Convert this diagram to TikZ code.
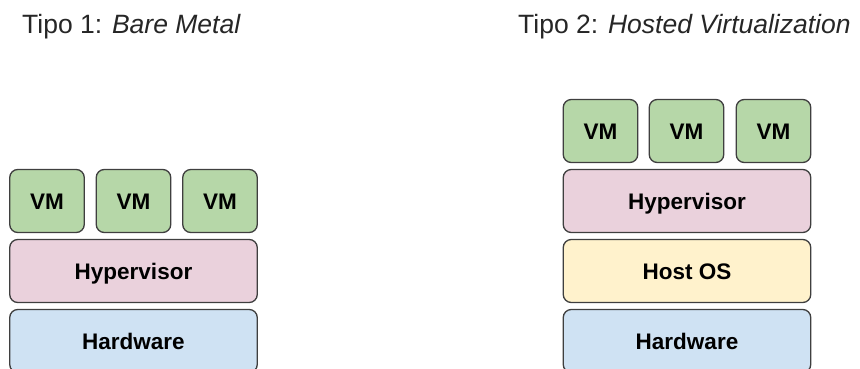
\documentclass[tikz,border=0pt]{standalone}
\usepackage{fontspec}
\setmainfont{Liberation Sans}
\definecolor{vmgreen}{HTML}{B6D7A8}
\definecolor{hvpink}{HTML}{EAD1DC}
\definecolor{hwblue}{HTML}{CFE2F3}
\definecolor{osyellow}{HTML}{FFF2CC}
\definecolor{edgegray}{HTML}{3F3F3F}
\begin{document}
\begin{tikzpicture}[x=1pt,y=-1pt,
  layer/.style={draw=edgegray, line width=1.3pt, rounded corners=8pt,
    minimum height=63pt, inner sep=0pt, text height=16pt, text depth=0pt,
    font=\fontsize{22.5}{26}\selectfont\bfseries, text=black},
  vmbox/.style={layer, fill=vmgreen, minimum width=74.5pt},
  wide/.style={layer, minimum width=247.5pt},
  title/.style={anchor=base west, inner sep=0pt, font=\fontsize{26.5}{30}\selectfont, text=black!85}
]
\useasboundingbox (0,0) rectangle (860,368);
% titles
\node[title] (t1) at (22,33) {Tipo 1: \textit{Bare Metal}};
\node[title] (t2) at (518,33) {Tipo 2: \textit{Hosted Virtualization}};
% left stack
\node[vmbox] (lvm1) at (47,201) {VM};
\node[vmbox] (lvm2) at (133.5,201) {VM};
\node[vmbox] (lvm3) at (220,201) {VM};
\node[wide, fill=hvpink] (lhyp) at (133.5,271) {Hypervisor};
\node[wide, fill=hwblue] (lhw) at (133.5,341) {Hardware};
% right stack
\node[vmbox] (rvm1) at (600.5,131) {VM};
\node[vmbox] (rvm2) at (686.5,131) {VM};
\node[vmbox] (rvm3) at (773.5,131) {VM};
\node[wide, fill=hvpink] (rhyp) at (687,201) {Hypervisor};
\node[wide, fill=osyellow] (ros) at (687,271) {Host OS};
\node[wide, fill=hwblue] (rhw) at (687,341) {Hardware};
\end{tikzpicture}
\end{document}
